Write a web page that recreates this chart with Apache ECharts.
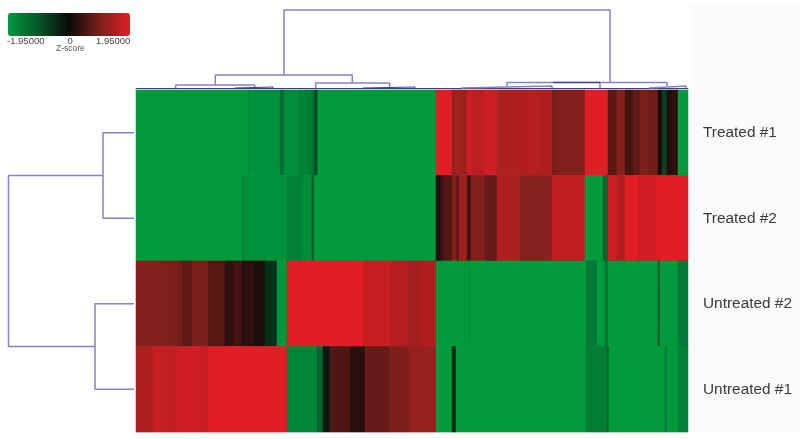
<!DOCTYPE html>
<html>
<head>
<meta charset="utf-8">
<style>html,body{margin:0;padding:0;background:#fff}#c{width:800px;height:439px}</style>
<script src="https://cdn.jsdelivr.net/npm/echarts@6/dist/echarts.min.js"></script>
</head>
<body>
<div id="c"></div>
<script>
// Row names, top to bottom
const rowNames = ['Treated #1', 'Treated #2', 'Untreated #2', 'Untreated #1'];
const columnCount = 552;
const zMin = -1.95, zMax = 1.95;

// Z-scores per row as runs: [last column of the run, z-score]
const treated1 = [[112,-1.95],[113,-1.6],[144,-1.85],[148,-1.3],[162,-1.8],[170,-1.65],[177,-1.55],[179,-1.2],[181,-0.7],[182,-1.2],[300,-1.95],
  [316,1.95],[319,1.2],[323,1.4],[331,1.3],[336,1.75],[349,1.6],[361,1.75],[384,1.45],[394,1.5],[404,1.55],[416,1.5],[421,0.95],[449,1.05],[472,1.95],[481,0.7],[489,1.1],[497,0.5],[504,0.75],[512,1.0],[522,0.9],[526,0.1],[531,-0.7],[536,0.2],[542,0.3],[552,-1.95]];
const treated2 = [[106,-1.95],[108,-1.6],[151,-1.85],[166,-1.6],[176,-1.75],[178,-1.0],[300,-1.95],
  [304,0.15],[307,0.35],[316,0.6],[321,1.0],[323,0.7],[331,1.3],[335,0.5],[349,1.05],[361,0.75],[384,1.45],[416,1.1],[449,1.65],[467,-1.95],[472,-1.2],[481,1.75],[489,1.5],[502,1.95],[521,1.8],[552,1.95]];
const untreated2 = [[26,1.05],[41,1.0],[47,0.9],[56,0.7],[72,1.0],[89,0.65],[97,0.3],[106,0.5],[109,0.25],[119,0.3],[129,0.15],[141,-0.5],[151,-1.9],[227,1.95],[254,1.7],[272,1.55],[286,1.35],[300,1.5],
  [329,-1.95],[330,-1.7],[333,-1.95],[334,-1.7],[450,-1.95],[461,-1.5],[469,-1.95],[472,-1.4],[522,-1.95],[524,-1.0],[542,-1.95],[552,-1.5]];
const untreated1 = [[17,1.45],[26,1.7],[41,1.65],[47,1.75],[64,1.8],[72,1.7],[151,1.95],[181,-1.65],[187,-1.2],[194,-0.2],[214,0.6],[229,0.25],[254,0.8],[273,1.0],[300,1.25],
  [316,-1.95],[320,-0.4],[450,-1.95],[471,-1.55],[473,-1.2],[529,-1.95],[531,-1.5],[542,-1.95],[552,-1.6]];
const rowRuns = [treated1, treated2, untreated2, untreated1];

// Column dendrogram merges: [column a, column b, height under a, height under b, merge height]
const columnMerges = [
  [148,474,13,5.6,78],[79.3,216.3,3,5,13],[39.7,118.7,0,1,3],[179.7,253.7,0,1,5],
  [417,531,5.6,2,5.6],[371,464,2,0,5.6],[325,416,0,0,2],[513,550,0,0,2]
];
const columnMergesFine = [[99,137,0,0,1],[227,279,0,0,1],[417,464,5.6,5.6,5.6]];
// Row dendrogram merges: [row a, row b, height under a, height under b, merge height]
const rowMerges = [[0.5,1.5,0,0,31],[2.5,3.5,0,0,39],[1,3,31,39,125.5]];

const cells = [];
rowRuns.forEach((runs, r) => {
  let c = 0;
  runs.forEach(([end, z]) => { for (; c < end; c++) cells.push([c, r, z]); });
});
const columns = Array.from({length: columnCount}, (_, i) => i);

const columnLink = (color, width) => m => ({
  type: 'line', xAxisIndex: 1, yAxisIndex: 1, showSymbol: false, silent: true, clip: false,
  lineStyle: {color, width}, data: [[m[0], m[2]], [m[0], m[4]], [m[1], m[4]], [m[1], m[3]]]
});
const rowLink = m => ({
  type: 'line', xAxisIndex: 2, yAxisIndex: 2, showSymbol: false, silent: true, clip: false,
  lineStyle: {color: '#8583c6', width: 1.5}, data: [[m[2], m[0]], [m[4], m[0]], [m[4], m[1]], [m[3], m[1]]]
});

const labelFont = '"Liberation Sans", Arial, sans-serif';
const chart = echarts.init(document.getElementById('c'), null, {renderer: 'canvas'});
chart.setOption({
  animation: false,
  backgroundColor: '#fff',
  grid: [
    {left: 136, top: 90, width: 552, height: 342},
    {left: 136, top: 0, width: 552, height: 88},
    {left: 0, top: 90, width: 134, height: 342}
  ],
  xAxis: [
    {type: 'category', data: columns, gridIndex: 0, show: false},
    {type: 'value', gridIndex: 1, min: 0, max: columnCount, axisLabel: {show: false}, axisTick: {show: false}, splitLine: {show: false},
     axisLine: {show: true, onZero: false, lineStyle: {color: '#3c3a9c', width: 1}}},
    {type: 'value', gridIndex: 2, min: 0, max: 134, inverse: true, show: false}
  ],
  yAxis: [
    {type: 'category', data: rowNames, gridIndex: 0, inverse: true, position: 'right',
     axisLine: {show: false}, axisTick: {show: false}, splitLine: {show: false},
     axisLabel: {margin: 15, fontSize: 15.4, color: '#3a3a3c', fontFamily: labelFont}},
    {type: 'value', gridIndex: 1, min: 0, max: 88, show: false},
    {type: 'value', gridIndex: 2, min: 0, max: 4, inverse: true, show: false}
  ],
  visualMap: {
    type: 'continuous', min: zMin, max: zMax, seriesIndex: 0, orient: 'horizontal',
    left: 8, top: 13, itemWidth: 23, itemHeight: 122, padding: 0, text: null, showLabel: false,
    calculable: false, hoverLink: false,
    inRange: {color: ['#009a3d', '#06552a', '#0c0909', '#7a201c', '#e11f26']}
  },
  series: [
    {type: 'heatmap', data: cells, xAxisIndex: 0, yAxisIndex: 0, progressive: 0, silent: true, itemStyle: {borderWidth: 0}},
    ...columnMerges.map(columnLink('#8583c6', 1.5)),
    ...columnMergesFine.map(columnLink('#3c3a9c', 1))
  ].concat(rowMerges.map(rowLink)),
  graphic: [
    {type: 'rect', z: -1, shape: {x: 692, y: 5, width: 108, height: 428}, style: {fill: '#f9fafa'}},
    {type: 'text', left: 7, top: 36, style: {text: (-1.95).toFixed(5), font: '9.5px ' + labelFont, fill: '#444'}},
    {type: 'text', left: 67.5, top: 36, style: {text: '0', font: '9.5px ' + labelFont, fill: '#444'}},
    {type: 'text', left: 96, top: 36, style: {text: (1.95).toFixed(5), font: '9.5px ' + labelFont, fill: '#444'}},
    {type: 'text', left: 56, top: 44, style: {text: 'Z-score', font: '8.5px ' + labelFont, fill: '#555'}}
  ]
});
</script>
</body>
</html>
